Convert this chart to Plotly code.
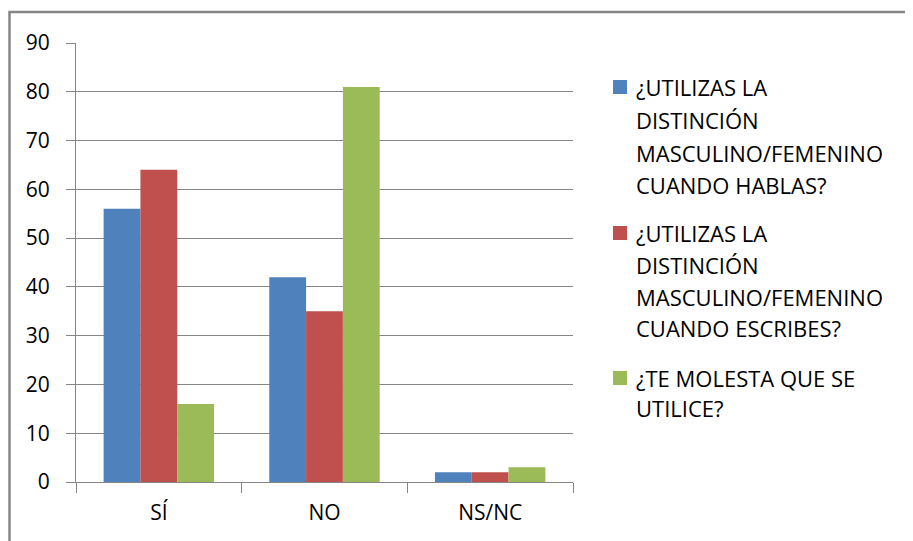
import plotly.graph_objects as go

# --- data ---
categories = ["SÍ", "NO", "NS/NC"]
habla = [56, 42, 2]
escribe = [64, 35, 2]
molesta = [16, 81, 3]

series_names = [
    ["¿UTILIZAS LA", "DISTINCIÓN", "MASCULINO/FEMENINO", "CUANDO HABLAS?"],
    ["¿UTILIZAS LA", "DISTINCIÓN", "MASCULINO/FEMENINO", "CUANDO ESCRIBES?"],
    ["¿TE MOLESTA QUE SE", "UTILICE?"],
]
colors = ["#4F81BD", "#C0504D", "#9BBB59"]
y_ticks = list(range(0, 100, 10))

# --- geometry (page pixels; page body has an 8px margin) ---
OFF = 8
W, H = 913 - OFF, 541 - OFF
L, T = 76 - OFF, 43 - OFF
PW, PH = 497, 439
R, B = W - L - PW, H - T - PH
GRID = "#868686"
FONT = "Open Sans"
FS = 21
LEG_FS = 22


def px_x(px):
    return (px - OFF - L) / PW


def px_y(py):
    return (T + PH - (py - OFF)) / PH


fig = go.Figure()
for vals, col, name in zip([habla, escribe, molesta], colors, series_names):
    fig.add_trace(go.Bar(
        x=categories, y=vals, name=" ".join(name),
        marker=dict(color=col, line=dict(width=0)),
        showlegend=False
    ))

fig.update_layout(
    width=W, height=H,
    margin=dict(l=L, r=R, t=T, b=B),
    paper_bgcolor="white", plot_bgcolor="white",
    barmode="group", bargap=1 / 3, bargroupgap=0,
    font=dict(family=FONT, size=FS, color="#000000"),
)
fig.update_yaxes(
    range=[0, 90], tickvals=y_ticks, showgrid=True, gridcolor=GRID, gridwidth=1,
    showline=True, linecolor=GRID, linewidth=1,
    ticks="outside", ticklen=9, tickcolor=GRID, ticklabelstandoff=12,
    zeroline=False, fixedrange=True
)
fig.update_xaxes(
    showline=True, linecolor=GRID, linewidth=1,
    ticks="outside", ticklen=10, tickcolor=GRID, tickson="boundaries",
    ticklabelstandoff=12, showgrid=False, fixedrange=True
)

# outer chart border
fig.add_shape(type="rect", xref="paper", yref="paper",
              x0=px_x(9.5), x1=px_x(960), y0=px_y(600), y1=px_y(12),
              line=dict(color=GRID, width=2.5), fillcolor="rgba(0,0,0,0)")

# manual legend (Excel-style spacing)
line_rows = [[87, 120, 153, 185], [233, 265, 297, 328], [378, 408]]
for lines, rows, col in zip(series_names, line_rows, colors):
    top = rows[0]
    fig.add_shape(type="rect", xref="paper", yref="paper",
                  x0=px_x(613), x1=px_x(627), y0=px_y(top + 7), y1=px_y(top - 7),
                  line=dict(width=0), fillcolor=col)
    for txt, yy in zip(lines, rows):
        fig.add_annotation(text=txt, xref="paper", yref="paper",
                           x=px_x(634), y=px_y(yy), xanchor="left", yanchor="middle",
                           showarrow=False, font=dict(family=FONT, size=LEG_FS, color="#000000"))

fig.write_html("out.html")
